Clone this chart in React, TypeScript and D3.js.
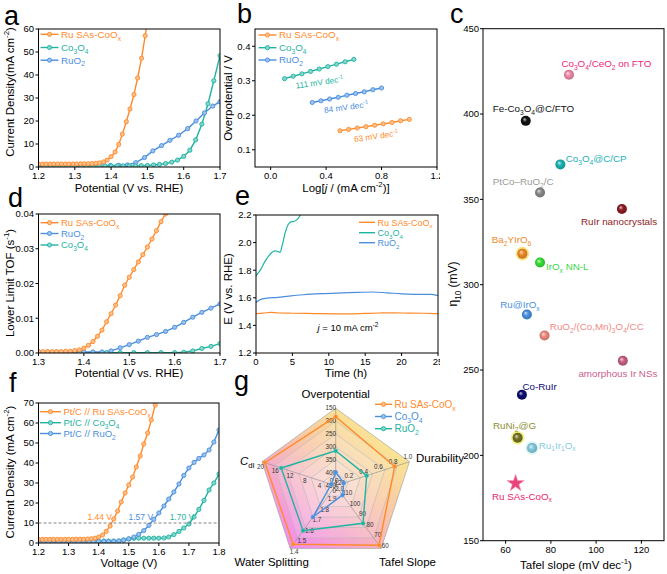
import React from 'react';
import * as d3 from 'd3';

const FONT = "'Liberation Sans', Arial, Helvetica, sans-serif";
const ORANGE = '#ff8a2b';
const TEAL = '#1fb3a2';
const BLUE = '#4a8ede';

type Pt = [number, number];

// ---------------- panel a : LSV ----------------
const aRuSAs: Pt[] = [[1.200,1.3],[1.211,1.3],[1.221,1.3],[1.232,1.3],[1.242,1.3],[1.253,1.3],[1.263,1.3],[1.274,1.3],[1.284,1.3],[1.295,1.3],[1.305,1.3],[1.316,1.4],[1.326,1.4],[1.337,1.4],[1.347,1.5],[1.358,1.6],[1.368,1.8],[1.379,2.2],[1.389,3.0],[1.400,4.5],[1.411,6.5],[1.421,9.8],[1.431,14.3],[1.442,19.7],[1.452,25.2],[1.463,31.5],[1.473,38.7],[1.484,47.3],[1.494,57.1],[1.499,62.5]];
const aCo3O4: Pt[] = [[1.200,0.5],[1.217,0.5],[1.233,0.5],[1.250,0.5],[1.267,0.5],[1.283,0.5],[1.300,0.5],[1.317,0.5],[1.333,0.5],[1.350,0.5],[1.367,0.5],[1.383,0.5],[1.400,0.5],[1.417,0.5],[1.433,0.5],[1.450,0.5],[1.467,0.5],[1.483,0.6],[1.500,0.7],[1.517,0.9],[1.533,1.1],[1.550,1.5],[1.567,2.1],[1.583,3.0],[1.600,4.6],[1.617,7.3],[1.633,11.8],[1.650,18.6],[1.667,27.5],[1.683,37.5],[1.700,48.4]];
const aRuO2: Pt[] = [[1.200,0.7],[1.211,0.7],[1.234,0.7],[1.258,0.7],[1.281,0.7],[1.305,0.7],[1.328,0.7],[1.351,0.7],[1.375,0.7],[1.398,0.7],[1.421,0.7],[1.445,0.9],[1.468,1.9],[1.492,4.1],[1.515,7.0],[1.539,9.3],[1.562,11.6],[1.586,13.8],[1.611,16.7],[1.634,20.0],[1.657,23.5],[1.680,26.5],[1.700,28.4]];

// ---------------- panel b : Tafel ----------------
const bRuSAs: Pt[] = [[0.500,0.155],[0.5625,0.159],[0.625,0.163],[0.6875,0.167],[0.750,0.171],[0.8125,0.175],[0.875,0.179],[0.9375,0.184],[1.000,0.188]];
const bCo3O4: Pt[] = [[0.100,0.306],[0.1625,0.313],[0.225,0.320],[0.2875,0.327],[0.350,0.334],[0.4125,0.341],[0.475,0.348],[0.5375,0.355],[0.600,0.362]];
const bRuO2: Pt[] = [[0.300,0.237],[0.3625,0.242],[0.425,0.247],[0.4875,0.252],[0.550,0.258],[0.6125,0.263],[0.675,0.268],[0.7375,0.274],[0.800,0.279]];
const bSlopeLabels = ['111 mV dec^{-1}', '84 mV dec^{-1}', '63 mV dec^{-1}'];
const bSlopeAt: Pt[] = [[0.355, 0.296], [0.548, 0.224], [0.764, 0.140]];

// ---------------- panel c : comparison ----------------
const cNames = ['Co_{3}O_{4}/CeO_{2} on FTO','Fe-Co_{3}O_{4}@C/FTO','Co_{3}O_{4}@C/CP','PtCo–RuO_{2}/C','RuIr nanocrystals','Ba_{2}YIrO_{6}','IrO_{x} NN-L','Ru@IrO_{x}','RuO_{2}/(Co,Mn)_{3}O_{4}/CC','amorphous Ir NSs','Co-RuIr','RuNi_{2}@G','Ru_{1}Ir_{1}O_{x}','Ru SAs-CoO_{x}'];
const cTafel = [88, 68.9, 84.2, 75.2, 111.4, 67.4, 75.2, 69.4, 77.2, 111.8, 67.2, 65.3, 71.7, 64.4];
const cEta10 = [423, 396, 370.5, 354, 344.4, 318.2, 313, 282.5, 270.2, 255.4, 235.5, 210.3, 204.3, 183.6];
// styles
const cDotColor = ['#f08aa8','#111111','#1ab3b3','#8a8a8a','#8e1c26','#f08a2a','#35e035','#4a90e0','#f08a7c','#c86084','#0c0c70','#74742a','#86cce0','#e8457e'];
const cTextColor = ['#ee1f7d','#111111','#22b0ba','#9a9a9a','#8e1c26','#f28a2a','#3ad84a','#4a90e0','#f28a86','#c8608c','#0c0c70','#8e8e32','#86cce0','#e8246c'];
const cHalo = [null, null, null, null, null, '#f8e070', null, null, null, null, null, '#f0f070', '#d8f2f2', null];
const cLabelOffset: Pt[] = [[-7.6,-8],[-33,-9],[5.3,-2],[-47.3,-7.2],[-41,16],[-30.6,-10.5],[6,7.5],[-26.7,-6.5],[5.3,-5.8],[-44.4,16.5],[0.6,-5],[-24.6,-9.2],[6.7,0.5],[-23.6,16.2]];

// ---------------- panel d : TOF ----------------
const dRuSAs: Pt[] = [[1.30,0.0004],[1.31,0.0004],[1.32,0.0004],[1.33,0.0004],[1.34,0.0004],[1.35,0.0004],[1.36,0.0005],[1.37,0.0005],[1.38,0.0007],[1.39,0.0009],[1.40,0.0014],[1.41,0.0022],[1.42,0.0033],[1.43,0.0048],[1.44,0.0066],[1.45,0.0090],[1.46,0.0113],[1.47,0.0138],[1.48,0.0165],[1.49,0.0195],[1.50,0.0218],[1.51,0.0240],[1.52,0.0262],[1.53,0.0283],[1.54,0.0305],[1.55,0.0328],[1.56,0.0352],[1.57,0.0378],[1.58,0.0400]];
const dRuO2: Pt[] = [[1.30,0.0003],[1.32,0.0003],[1.34,0.0003],[1.36,0.0003],[1.38,0.0003],[1.40,0.0003],[1.42,0.0003],[1.44,0.0003],[1.46,0.0006],[1.48,0.0015],[1.50,0.0024],[1.52,0.0034],[1.54,0.0045],[1.56,0.0053],[1.58,0.0062],[1.60,0.0074],[1.62,0.0088],[1.64,0.0103],[1.66,0.0117],[1.68,0.0129],[1.70,0.0141]];
const dCo3O4: Pt[] = [[1.30,0.0001],[1.33,0.0001],[1.36,0.0001],[1.39,0.0001],[1.42,0.0001],[1.45,0.0001],[1.48,0.0001],[1.51,0.0001],[1.54,0.0001],[1.57,0.0001],[1.60,0.0001],[1.62,0.0002],[1.64,0.0006],[1.66,0.0013],[1.68,0.0019],[1.70,0.0027]];

// ---------------- panel e : stability ----------------
const eRuSAs: Pt[] = [[0,1.486],[1,1.489],[2,1.495],[3,1.490],[5,1.488],[8,1.486],[11,1.484],[13,1.483],[15,1.487],[17,1.490],[19,1.491],[21,1.489],[23,1.488],[25,1.485]];
const eCo3O4: Pt[] = [[0,1.759],[0.3,1.78],[0.7,1.81],[1.2,1.86],[1.7,1.90],[2.2,1.93],[2.7,1.94],[3.0,1.935],[3.3,1.93],[3.6,1.98],[4.0,2.07],[4.4,2.13],[4.8,2.15],[5.3,2.155],[5.7,2.17],[6.1,2.20],[6.3,2.22]];
const eRuO2: Pt[] = [[0,1.566],[0.5,1.585],[1.5,1.598],[3,1.603],[4.5,1.612],[6.5,1.622],[9,1.630],[12,1.636],[14,1.640],[16,1.642],[18,1.636],[20,1.629],[22,1.625],[24,1.625],[25,1.615]];

// ---------------- panel f : overall water splitting ----------------
const fRuSAs: Pt[] = [[1.200,1.8],[1.213,1.8],[1.225,1.8],[1.238,1.8],[1.250,1.8],[1.263,1.8],[1.275,1.8],[1.288,1.8],[1.300,1.8],[1.313,1.8],[1.325,1.9],[1.338,1.9],[1.350,1.9],[1.363,2.0],[1.375,2.1],[1.388,2.4],[1.400,3.0],[1.413,4.0],[1.425,5.8],[1.438,8.5],[1.450,12.0],[1.463,16.0],[1.475,20.5],[1.488,25.0],[1.500,29.0],[1.513,33.0],[1.525,38.0],[1.538,43.5],[1.550,49.5],[1.563,55.0],[1.575,61.5],[1.588,69.0]];
const fCo3O4: Pt[] = [[1.200,1.0],[1.217,1.0],[1.233,1.0],[1.250,1.0],[1.267,1.0],[1.283,1.0],[1.300,1.0],[1.317,1.0],[1.333,1.0],[1.350,1.0],[1.367,1.0],[1.383,1.0],[1.400,1.0],[1.417,1.0],[1.433,1.0],[1.450,1.0],[1.467,1.0],[1.483,1.5],[1.500,2.0],[1.517,2.3],[1.533,2.4],[1.550,2.4],[1.567,2.4],[1.583,2.4],[1.600,2.4],[1.617,2.5],[1.633,3.0],[1.650,4.2],[1.667,5.8],[1.683,7.5],[1.700,9.5],[1.717,13.0],[1.733,16.8],[1.750,21.3],[1.767,26.5],[1.783,30.0],[1.800,34.5]];
const fRuO2: Pt[] = [[1.200,0.8],[1.217,0.8],[1.233,0.8],[1.250,0.8],[1.267,0.8],[1.283,0.8],[1.300,0.8],[1.317,0.8],[1.333,0.8],[1.350,0.8],[1.367,0.8],[1.383,0.8],[1.400,0.8],[1.417,0.8],[1.433,0.8],[1.450,0.8],[1.467,1.0],[1.483,1.4],[1.500,2.1],[1.517,3.0],[1.533,4.3],[1.550,6.2],[1.567,8.8],[1.583,11.8],[1.600,15.0],[1.617,18.5],[1.633,22.0],[1.650,25.5],[1.667,29.5],[1.683,33.8],[1.700,37.5],[1.717,40.3],[1.733,42.3],[1.750,44.0],[1.767,46.5],[1.783,50.5],[1.800,56.5]];
const fCellVoltages = [1.44, 1.57, 1.70];
const fRefCurrent = 10;

// ---------------- panel g : radar ----------------
const gAxes = ['Overpotential', 'Durability', 'Tafel Slope', 'Water Splitting', 'C'];
const gCenterVals = [450, 0, 120, 2.0, 0];
const gOuterVals = [150, 1.0, 60, 1.4, 20];
const gTicks = [[450,400,350,300,250,200,150],[0,0.2,0.4,0.6,0.8,1.0],[120,110,100,90,80,70,60],[2.0,1.9,1.8,1.7,1.6,1.5,1.4],[0,4,8,12,16,20]];
const gTickFmt = ['d', '.1f', 'd', '.1f', 'd'];
const gSeriesNames = ['Ru SAs-CoO_{x}', 'Co_{3}O_{4}', 'RuO_{2}'];
const gRuSAs = [183, 0.80, 63, 1.44, 19.2];
const gCo3O4 = [398, 0.11, 111, 1.70, 1.2];
const gRuO2 = [315, 0.42, 84, 1.57, 14.8];

// ======================================================
function light(c: string, t = 0.45) { return d3.interpolateRgb(c, '#ffffff')(t); }

function richParts(text: string, fs: number) {
  const out: React.ReactNode[] = [];
  const re = /([_^~])\{([^}]*)\}/g;
  let last = 0, shift = 0, k = 0;
  let m: RegExpExecArray | null;
  const plain = (t: string) => { out.push(<tspan key={k++} dy={-shift} fontSize={fs}>{t}</tspan>); shift = 0; };
  while ((m = re.exec(text)) !== null) {
    if (m.index > last) plain(text.slice(last, m.index));
    if (m[1] === '~') {
      out.push(<tspan key={k++} dy={-shift} fontSize={fs} fontStyle="italic">{m[2]}</tspan>);
      shift = 0;
    } else {
      const target = m[1] === '_' ? fs * 0.3 : -fs * 0.42;
      out.push(<tspan key={k++} dy={target - shift} fontSize={fs * 0.68}>{m[2]}</tspan>);
      shift = target;
    }
    last = re.lastIndex;
  }
  if (last < text.length) plain(text.slice(last));
  return out;
}

function T(p: { x: number; y: number; text: string; fs: number; anchor?: string; fill?: string; rot?: number }) {
  return (
    <text x={p.x} y={p.y} fontSize={p.fs} textAnchor={p.anchor || 'start'} fill={p.fill || '#000'}
      transform={p.rot ? `rotate(${p.rot},${p.x},${p.y})` : undefined}>
      {richParts(p.text, p.fs)}
    </text>
  );
}

type Box = [number, number, number, number];
function mkScales(box: Box, xd: [number, number], yd: [number, number]) {
  return {
    xs: d3.scaleLinear().domain(xd).range([box[0], box[2]]),
    ys: d3.scaleLinear().domain(yd).range([box[3], box[1]]),
  };
}

interface Series { pts: Pt[]; color: string; markers?: boolean; width?: number; smooth?: boolean }

function LinePanel(p: { id: string; box: Box; xd: [number, number]; yd: [number, number]; xt: number[]; yt: number[]; xf: (v: number) => string; yf: (v: number) => string; series: Series[] }) {
  const [x0, y0, x1, y1] = p.box;
  const { xs, ys } = mkScales(p.box, p.xd, p.yd);
  const fs = 9.5;
  return (
    <g>
      <defs><clipPath id={p.id}><rect x={x0} y={y0} width={x1 - x0} height={y1 - y0} /></clipPath></defs>
      <g clipPath={`url(#${p.id})`}>
        {p.series.map((s, i) => {
          const line = d3.line<Pt>().x(d => xs(d[0])).y(d => ys(d[1])).curve(s.smooth ? d3.curveMonotoneX : d3.curveLinear);
          return <path key={i} d={line(s.pts) || ''} fill="none" stroke={s.color} strokeWidth={s.width || 1.4} />;
        })}
        {p.series.map((s, i) => s.markers === false ? null : s.pts.map((q, j) => (
          <circle key={i + '-' + j} cx={xs(q[0])} cy={ys(q[1])} r={2.1} fill={light(s.color)} stroke={s.color} strokeWidth={0.9} />
        )))}
      </g>
      <rect x={x0} y={y0} width={x1 - x0} height={y1 - y0} fill="none" stroke="#000" strokeWidth={1} />
      {p.xt.map(t => (
        <g key={'x' + t}>
          <line x1={xs(t)} x2={xs(t)} y1={y1} y2={y1 + 3} stroke="#000" strokeWidth={1} />
          <text x={xs(t)} y={y1 + 11.5} fontSize={fs} textAnchor="middle">{p.xf(t)}</text>
        </g>
      ))}
      {p.yt.map(t => (
        <g key={'y' + t}>
          <line x1={x0 - 3} x2={x0} y1={ys(t)} y2={ys(t)} stroke="#000" strokeWidth={1} />
          <text x={x0 - 4.5} y={ys(t) + 3.4} fontSize={fs} textAnchor="end">{p.yf(t)}</text>
        </g>
      ))}
    </g>
  );
}

function Legend(p: { x: number; ys: number[]; names: string[]; colors: string[]; len: number; fs: number; markers?: boolean }) {
  return (
    <g>
      {p.names.map((n, i) => (
        <g key={i}>
          <line x1={p.x} x2={p.x + p.len} y1={p.ys[i]} y2={p.ys[i]} stroke={p.colors[i]} strokeWidth={1.4} />
          {p.markers !== false && <circle cx={p.x + p.len / 2} cy={p.ys[i]} r={2.1} fill={light(p.colors[i])} stroke={p.colors[i]} strokeWidth={0.9} />}
          <T x={p.x + p.len + 2.5} y={p.ys[i] + 3.3} text={n} fs={p.fs} fill={p.colors[i]} />
        </g>
      ))}
    </g>
  );
}

const f1 = (v: number) => d3.format('.1f')(v);
const f0 = (v: number) => d3.format('d')(v);
const f2 = (v: number) => d3.format('.2f')(v);

function PanelC() {
  const box: Box = [483, 28.7, 664, 540.7];
  const { xs, ys } = mkScales(box, [50, 130], [150, 450]);
  const star = d3.symbol().type(d3.symbolStar).size(95)() || '';
  return (
    <g>
      <rect x={440} y={0} width={42} height={380} fill="#fff" />
      <defs>
        {cDotColor.map((c, i) => (
          <radialGradient key={i} id={'sph' + i} cx="0.5" cy="0.5" r="0.5" fx="0.35" fy="0.32">
            <stop offset="0" stopColor={light(c, 0.75)} />
            <stop offset="0.45" stopColor={c} />
            <stop offset="1" stopColor={d3.color(c)!.darker(0.6).formatHex()} />
          </radialGradient>
        ))}
      </defs>
      <rect x={box[0]} y={box[1]} width={box[2] - box[0]} height={box[3] - box[1]} fill="none" stroke="#000" strokeWidth={1} />
      {[60, 80, 100, 120].map(t => (
        <g key={t}>
          <line x1={xs(t)} x2={xs(t)} y1={box[3]} y2={box[3] + 3} stroke="#000" />
          <text x={xs(t)} y={box[3] + 12} fontSize={9.5} textAnchor="middle">{t}</text>
        </g>
      ))}
      {[150, 200, 250, 300, 350, 400, 450].map(t => (
        <g key={t}>
          <line x1={box[0] - 3} x2={box[0]} y1={ys(t)} y2={ys(t)} stroke="#000" />
          <text x={box[0] - 4} y={ys(t) + 3.4} fontSize={9.5} textAnchor="end">{t}</text>
        </g>
      ))}
      {cNames.map((n, i) => {
        const x = xs(cTafel[i]), y = ys(cEta10[i]);
        const isStar = i === cNames.length - 1;
        return (
          <g key={i}>
            {cHalo[i] && <circle cx={x} cy={y} r={6.8} fill={cHalo[i] as string} opacity={0.9} />}
            {isStar
              ? <path d={star} transform={`translate(${x},${y})`} fill={cDotColor[i]} stroke="#f6a0b8" strokeWidth={0.6} />
              : <circle cx={x} cy={y} r={5} fill={`url(#sph${i})`} />}
            <T x={x + cLabelOffset[i][0]} y={y + cLabelOffset[i][1]} text={n} fs={9.8} fill={cTextColor[i]} />
          </g>
        );
      })}
      <T x={576} y={569} text="Tafel slope (mV dec^{-1})" fs={11.5} anchor="middle" />
      <T x={457} y={284} text="η_{10} (mV)" fs={12} anchor="middle" rot={-90} />
    </g>
  );
}

function PanelG() {
  const cx = 335.7, cy = 485.7, R = 77.5;
  const ang = gAxes.map((_, i) => (-90 + 72 * i) * Math.PI / 180);
  const dir = ang.map(a => [Math.cos(a), Math.sin(a)]);
  const scales = gAxes.map((_, i) => d3.scaleLinear().domain([gCenterVals[i], gOuterVals[i]]).range([0, R]));
  const poly = (frac: number) => dir.map(d => `${cx + d[0] * R * frac},${cy + d[1] * R * frac}`).join(' ');
  const levels = [1, 5 / 6, 4 / 6, 3 / 6, 2 / 6, 1 / 6];
  const seriesVals = [gRuSAs, gCo3O4, gRuO2];
  const seriesCols = [ORANGE, BLUE, TEAL];
  const pts = (vals: number[]) => vals.map((v, i) => [cx + dir[i][0] * scales[i](v), cy + dir[i][1] * scales[i](v)]);
  return (
    <g>
      <defs>
        <linearGradient id="radarGrad" x1="0.85" y1="0.05" x2="0.1" y2="0.9">
          <stop offset="0" stopColor="#fbf08a" />
          <stop offset="0.45" stopColor="#f8c8a8" />
          <stop offset="1" stopColor="#f28cf0" />
        </linearGradient>
      </defs>
      <polygon points={poly(1)} fill="url(#radarGrad)" />
      {levels.slice(1).map((l, i) => <polygon key={i} points={poly(l)} fill="#ffffff" opacity={0.14} />)}
      {levels.map((l, i) => <polygon key={'r' + i} points={poly(l)} fill="none" stroke={i === 0 ? '#9a9a9a' : '#b8b8b8'} strokeWidth={0.6} />)}
      {dir.map((d, i) => <line key={i} x1={cx} y1={cy} x2={cx + d[0] * R} y2={cy + d[1] * R} stroke="#8a8a8a" strokeWidth={0.6} />)}
      {gTicks.map((ticks, i) => {
        const d = dir[i];
        const p = [d[1], -d[0]];
        return ticks.map(t => {
          const r = scales[i](t);
          return <text key={i + '-' + t} x={cx + d[0] * r + p[0] * 5} y={cy + d[1] * r + p[1] * 5 + 2.2} fontSize={6.3} fill="#333" textAnchor="middle">{d3.format(gTickFmt[i])(t)}</text>;
        });
      })}
      {seriesVals.map((vals, s) => {
        const P = pts(vals);
        return (
          <g key={s}>
            <polygon points={P.map(q => q.join(',')).join(' ')} fill="none" stroke={seriesCols[s]} strokeWidth={1.4} />
            {P.map((q, j) => <circle key={j} cx={q[0]} cy={q[1]} r={2.1} fill={seriesCols[s]} stroke={light(seriesCols[s], 0.3)} strokeWidth={0.5} />)}
          </g>
        );
      })}
      <T x={335.7} y={398} text={gAxes[0]} fs={11.5} anchor="middle" />
      <T x={416} y={462} text={gAxes[1]} fs={11.5} />
      <T x={407.5} y={566} text={gAxes[2]} fs={11.5} anchor="middle" />
      <T x={271.7} y={566} text={gAxes[3]} fs={11.5} anchor="middle" />
      <text x={240} y={465} fontSize={11.5}><tspan fontStyle="italic">{gAxes[4]}</tspan><tspan fontSize={7.8} dy={3}>dl</tspan></text>
      <Legend x={375} ys={[404.3, 416.5, 428.7]} names={gSeriesNames} colors={seriesCols} len={17} fs={10} />
    </g>
  );
}

export default function App() {
  const boxA: Box = [38.5, 29, 220, 167];
  const boxB: Box = [255, 29, 437, 167];
  const boxD: Box = [38.5, 214, 220, 353];
  const boxE: Box = [256, 215, 438, 353];
  const boxF: Box = [38.5, 403, 219, 543];
  const sB = mkScales(boxB, [-0.113, 1.2], [0.05, 0.45]);
  const sF = mkScales(boxF, [1.2, 1.8], [0, 70]);
  const slopeCols = [TEAL, BLUE, ORANGE];
  const vCols = [ORANGE, BLUE, TEAL];
  return (
    <svg width={667} height={574} style={{ position: 'absolute', left: 0, top: 0, background: '#fff' }} fontFamily={FONT}>
      <rect x={0} y={0} width={667} height={574} fill="#fff" />
      {/* a */}
      <LinePanel id="ca" box={boxA} xd={[1.2, 1.7]} yd={[0, 60]} xt={[1.2, 1.3, 1.4, 1.5, 1.6, 1.7]} yt={[0, 10, 20, 30, 40, 50, 60]} xf={f1} yf={f0}
        series={[{ pts: aRuO2, color: BLUE }, { pts: aCo3O4, color: TEAL }, { pts: aRuSAs, color: ORANGE }]} />
      <Legend x={40.5} ys={[34.3, 47.5, 60.2]} names={['Ru SAs-CoO_{x}', 'Co_{3}O_{4}', 'RuO_{2}']} colors={[ORANGE, TEAL, BLUE]} len={18} fs={9.8} />
      <T x={129} y={192} text="Potential (V vs. RHE)" fs={11.5} anchor="middle" />
      <T x={14} y={92} text="Current Density(mA cm^{-2})" fs={11.5} anchor="middle" rot={-90} />
      <text x={4} y={25} fontSize={27}>a</text>

      {/* b */}
      <LinePanel id="cb" box={boxB} xd={[-0.113, 1.2]} yd={[0.05, 0.45]} xt={[0, 0.4, 0.8, 1.2]} yt={[0.1, 0.2, 0.3, 0.4]} xf={f1} yf={f1}
        series={[{ pts: bCo3O4, color: TEAL }, { pts: bRuO2, color: BLUE }, { pts: bRuSAs, color: ORANGE }]} />
      <Legend x={258.5} ys={[35, 47.7, 60]} names={['Ru SAs-CoO_{x}', 'Co_{3}O_{4}', 'RuO_{2}']} colors={[ORANGE, TEAL, BLUE]} len={18} fs={9.8} />
      {bSlopeLabels.map((l, i) => (
        <T key={i} x={sB.xs(bSlopeAt[i][0])} y={sB.ys(bSlopeAt[i][1]) + 3} text={l} fs={8.3} anchor="middle" fill={slopeCols[i]} rot={-8} />
      ))}
      <T x={346} y={192} text="Log[~{j} / (mA cm^{-2})]" fs={11.5} anchor="middle" />
      <T x={232} y={98} text="Overpotential / V" fs={11.5} anchor="middle" rot={-90} />
      <text x={237} y={23} fontSize={27}>b</text>

      {/* d */}
      <LinePanel id="cd" box={boxD} xd={[1.3, 1.7]} yd={[0, 0.04]} xt={[1.3, 1.4, 1.5, 1.6, 1.7]} yt={[0, 0.01, 0.02, 0.03, 0.04]} xf={f1} yf={f2}
        series={[{ pts: dCo3O4, color: TEAL }, { pts: dRuO2, color: BLUE }, { pts: dRuSAs, color: ORANGE }]} />
      <Legend x={40.5} ys={[222.7, 233.5, 245]} names={['Ru SAs-CoO_{x}', 'RuO_{2}', 'Co_{3}O_{4}']} colors={[ORANGE, BLUE, TEAL]} len={18} fs={9.5} />
      <T x={129} y={377} text="Potential (V vs. RHE)" fs={11.5} anchor="middle" />
      <T x={14} y={283} text="Lower Limit TOF (s^{-1})" fs={11.5} anchor="middle" rot={-90} />
      <text x={8} y={207} fontSize={27}>d</text>

      {/* e */}
      <LinePanel id="ce" box={boxE} xd={[0, 25]} yd={[1.2, 2.2]} xt={[0, 5, 10, 15, 20, 25]} yt={[1.2, 1.4, 1.6, 1.8, 2.0, 2.2]} xf={f0} yf={f1}
        series={[{ pts: eCo3O4, color: TEAL, markers: false, width: 1.2, smooth: true }, { pts: eRuO2, color: BLUE, markers: false, width: 1.2, smooth: true }, { pts: eRuSAs, color: ORANGE, markers: false, width: 1.2, smooth: true }]} />
      <Legend x={359} ys={[222.3, 232.7, 242.7]} names={['Ru SAs-CoO_{x}', 'Co_{3}O_{4}', 'RuO_{2}']} colors={[ORANGE, TEAL, BLUE]} len={16} fs={9} markers={false} />
      <T x={348} y={331} text="~{j} = 10 mA cm^{-2}" fs={9.5} anchor="middle" />
      <T x={346} y={377} text="Time (h)" fs={11.5} anchor="middle" />
      <T x={232} y={289} text="E (V vs. RHE)" fs={11.5} anchor="middle" rot={-90} />
      <text x={235} y={205} fontSize={27}>e</text>

      {/* f */}
      <LinePanel id="cf" box={boxF} xd={[1.2, 1.8]} yd={[0, 70]} xt={[1.2, 1.3, 1.4, 1.5, 1.6, 1.7, 1.8]} yt={[0, 10, 20, 30, 40, 50, 60, 70]} xf={f1} yf={f0}
        series={[{ pts: fCo3O4, color: TEAL }, { pts: fRuO2, color: BLUE }, { pts: fRuSAs, color: ORANGE }]} />
      <line x1={boxF[0]} x2={boxF[2]} y1={sF.ys(fRefCurrent)} y2={sF.ys(fRefCurrent)} stroke="#666" strokeWidth={0.8} strokeDasharray="3,2" />
      {fCellVoltages.map((v, i) => (
        <text key={i} x={sF.xs(v) - 11 + i * 2} y={sF.ys(fRefCurrent) - 3.5} fontSize={8.5} textAnchor="middle" fill={vCols[i]}>{d3.format('.2f')(v)} V</text>
      ))}
      <Legend x={40} ys={[411.7, 422.7, 433.5]} names={['Pt/C // Ru SAs-CoO_{x}', 'Pt/C // Co_{3}O_{4}', 'Pt/C // RuO_{2}']} colors={[ORANGE, TEAL, BLUE]} len={21} fs={9.5} />
      <T x={129} y={567} text="Voltage (V)" fs={11.5} anchor="middle" />
      <T x={14} y={472} text="Current Density (mA cm^{-2})" fs={11.5} anchor="middle" rot={-90} />
      <text x={9} y={392} fontSize={27}>f</text>

      {/* c */}
      <PanelC />
      <text x={450} y={23} fontSize={27}>c</text>

      {/* g */}
      <PanelG />
      <text x={234} y={390} fontSize={27}>g</text>
    </svg>
  );
}
